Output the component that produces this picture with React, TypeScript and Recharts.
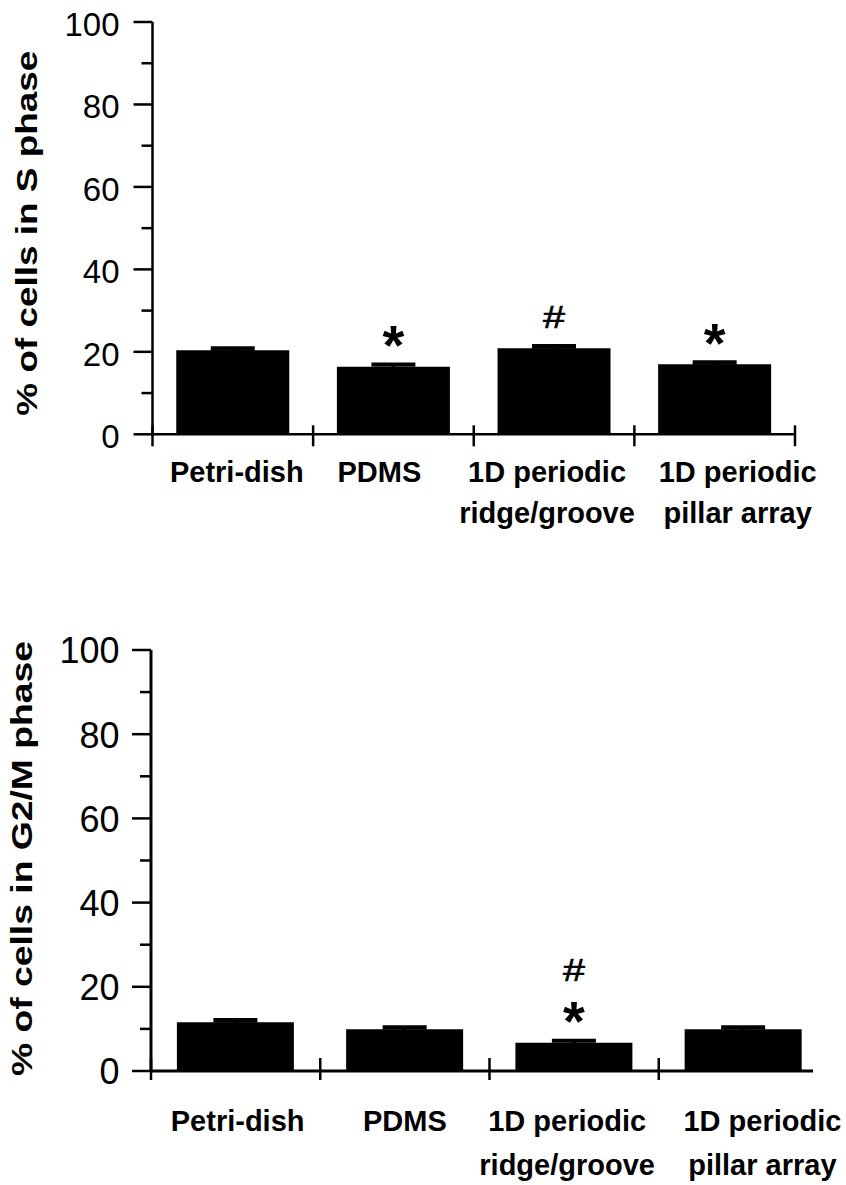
import React from 'react';
import { BarChart, Bar, XAxis, YAxis, ErrorBar, LabelList, Label } from 'recharts';

const FONT = '"Liberation Sans", Arial, Helvetica, sans-serif';

// ---- data ----
const categories = ['Petri-dish', 'PDMS', '1D periodic\nridge/groove', '1D periodic\npillar array'];
const sPhaseMean = [20.4, 16.4, 20.9, 17.0];
const sPhaseErr = [0.5, 0.5, 0.5, 0.5];
const sPhaseMarks = ['', '*', '#', '*'];
const g2mMean = [11.6, 9.9, 6.7, 9.9];
const g2mErr = [0.5, 0.5, 0.5, 0.5];
const g2mMarks = ['', '', '*#', ''];
const yTicks = [0, 10, 20, 30, 40, 50, 60, 70, 80, 90, 100];
const yMajorStep = 20;

const sData = categories.map((name, i) => ({ name, mean: sPhaseMean[i], err: sPhaseErr[i], mark: sPhaseMarks[i] }));
const gData = categories.map((name, i) => ({ name, mean: g2mMean[i], err: g2mErr[i], mark: g2mMarks[i] }));

// ---- style configs ----
const chart1Style = {
  yFont: 33, yGap: 33, yBase: 14, axisW: 2.5,
  tickUp: 9, tickDown: 12, endTick: true,
  line1: 47.4, line2: 89, labelShift: [4, -14, -7, 23],
  titleDx: 24.5, titleDy: 5, titleSize: 29, titleLen: 365,
};
const chart2Style = {
  yFont: 36, yGap: 31.5, yBase: 13.4, axisW: 3,
  tickUp: 13, tickDown: 9, endTick: false,
  line1: 60.4, line2: 104, labelShift: [2, 0, -7, 19],
  titleDx: 21, titleDy: -2, titleSize: 30, titleLen: 435,
};

function makeYTick(st: any) {
  return (props: any) => {
    const { x, y, payload } = props;
    const major = payload.value % yMajorStep === 0;
    return (
      <g>
        <line x1={x - (major ? 19 : 11)} x2={x} y1={y} y2={y} stroke="#000" strokeWidth={2.5} />
        {major && (
          <text x={x - st.yGap} y={y + st.yBase} textAnchor="end" fontSize={st.yFont} fontFamily={FONT} fill="#000">
            {payload.value}
          </text>
        )}
      </g>
    );
  };
}

function makeXTick(st: any) {
  return (props: any) => {
    const { x, y, payload, index } = props;
    const off = payload.offset ?? 0;
    const lines = String(payload.value).split('\n');
    const cx = x + (st.labelShift[index] ?? 0);
    return (
      <g>
        <line x1={x - off} x2={x - off} y1={y - st.tickUp} y2={y + st.tickDown} stroke="#000" strokeWidth={2.5} />
        {st.endTick && index === categories.length - 1 && (
          <line x1={x + off} x2={x + off} y1={y - st.tickUp} y2={y + st.tickDown} stroke="#000" strokeWidth={2.5} />
        )}
        {lines.map((ln, k) => (
          <text key={k} x={cx} y={y + (k === 0 ? st.line1 : st.line2)} textAnchor="middle" fontSize={29}
            fontWeight="bold" fontFamily={FONT} fill="#000">
            {ln}
          </text>
        ))}
      </g>
    );
  };
}

function makeTitle(st: any, text: string) {
  return (props: any) => {
    const vb = props.viewBox || { x: 0, y: 0, width: 0, height: 0 };
    const bx = vb.x + st.titleDx;
    const cy = vb.y + vb.height / 2 + st.titleDy;
    return (
      <text x={bx} y={cy} transform={`rotate(-90, ${bx}, ${cy})`} textAnchor="middle" fontSize={st.titleSize}
        fontWeight="bold" fontFamily={FONT} fill="#000" textLength={st.titleLen} lengthAdjust="spacingAndGlyphs">
        {text}
      </text>
    );
  };
}

const renderMarks = (p: any) => {
  const { x, y, width, value } = p;
  if (!value) return null;
  const cx = Number(x) + Number(width) / 2;
  return (
    <g>
      {String(value).split('').map((ch, k) => {
        const bottom = Number(y) - 20 - 42 * k;
        return ch === '*' ? (
          <text key={k} x={cx} y={bottom + 17.5} textAnchor="middle" fontSize={56} fontWeight="bold" fontFamily={FONT} fill="#000">*</text>
        ) : (
          <text key={k} x={cx - 11} y={bottom} fontSize={31} fontFamily={FONT} fill="#000" stroke="#000" strokeWidth={0.6}
            textLength={22} lengthAdjust="spacingAndGlyphs">#</text>
        );
      })}
    </g>
  );
};

function Panel({ data, st, title, width, height, margin, xHeight, padRight, gap }: any) {
  return (
    <BarChart width={width} height={height} data={data} margin={margin} barCategoryGap={gap}>
      <XAxis dataKey="name" type="category" interval={0} height={xHeight} tickSize={0} tickMargin={0}
        tickLine={false} axisLine={{ stroke: '#000', strokeWidth: st.axisW }} tick={makeXTick(st)}
        padding={{ left: 0, right: padRight }} />
      <YAxis type="number" domain={[0, 100]} ticks={yTicks} interval={0} width={140} tickSize={0} tickMargin={0}
        tickLine={false} axisLine={{ stroke: '#000', strokeWidth: st.axisW }} tick={makeYTick(st)}>
        <Label content={makeTitle(st, title)} />
      </YAxis>
      <Bar dataKey="mean" fill="#000" isAnimationActive={false}>
        <ErrorBar dataKey="err" width={22} strokeWidth={4} stroke="#000" direction="y" isAnimationActive={false} />
        <LabelList dataKey="mark" content={renderMarks} />
      </Bar>
    </BarChart>
  );
}

export default function App() {
  return (
    <div style={{ position: 'absolute', left: 0, top: 0, width: 846, height: 1185, background: '#fff', overflow: 'hidden' }}>
      <div style={{ position: 'absolute', left: 0, top: 0 }}>
        <Panel data={sData} st={chart1Style} title="% of cells in S phase" width={846} height={560}
          margin={{ top: 22, right: 51, left: 12.5, bottom: 25.7 }} xHeight={100} padRight={0} gap="14.8%" />
      </div>
      <div style={{ position: 'absolute', left: 0, top: 560 }}>
        <Panel data={gData} st={chart2Style} title="% of cells in G2/M phase" width={846} height={625}
          margin={{ top: 90, right: 33, left: 11, bottom: 24 }} xHeight={90} padRight={-15} gap="15.3%" />
      </div>
    </div>
  );
}
